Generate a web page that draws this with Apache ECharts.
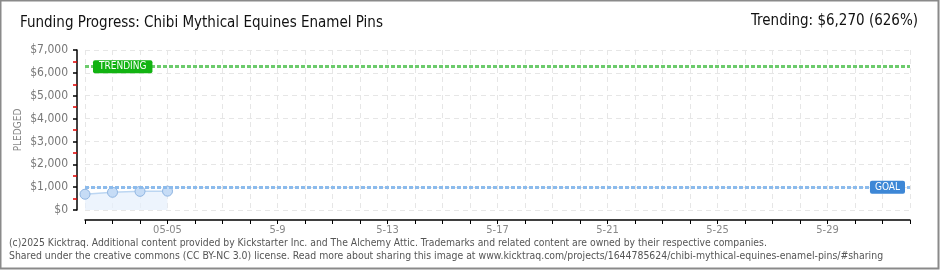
<!DOCTYPE html>
<html><head><meta charset="utf-8">
<script src="https://cdn.jsdelivr.net/npm/echarts@6/dist/echarts.min.js"></script>
<style>html,body{margin:0;padding:0;background:#fff}#c{width:940px;height:270px}</style>
</head><body><div id="c"></div>
<script>
const categories = ['05-02','05-03','05-04','05-05','05-06','05-07','05-08','05-09','05-10','05-11','05-12','05-13','05-14','05-15','05-16','05-17','05-18','05-19','05-20','05-21','05-22','05-23','05-24','05-25','05-26','05-27','05-28','05-29','05-30','05-31','06-01'];
const xTickLabels = ['05-05','5-9','5-13','5-17','5-21','5-25','5-29'];
const pledged = [690, 775, 815, 825];
const goal = 1000;
const trending = 6270;
const titleText = 'Funding Progress: Chibi Mythical Equines Enamel Pins';
const trendText = 'Trending: $6,270 (626%)';
const footer1 = '(c)2025 Kicktraq. Additional content provided by Kickstarter Inc. and The Alchemy Attic. Trademarks and related content are owned by their respective companies.';
const footer2 = 'Shared under the creative commons (CC BY-NC 3.0) license. Read more about sharing this image at www.kicktraq.com/projects/1644785624/chibi-mythical-equines-enamel-pins/#sharing';

const FT = '"Liberation Sans Narrow","DejaVu Sans Condensed",sans-serif';
const FA = '"DejaVu Sans Condensed","DejaVu Sans",sans-serif';
const chart = echarts.init(document.getElementById('c'), null, {renderer:'canvas'});
chart.setOption({
  animation:false,
  backgroundColor:'#fff',
  graphic:[
    {type:'rect', shape:{x:0.5,y:0.5,width:938,height:268}, style:{fill:null, stroke:'#8a8a8a', lineWidth:2}},
    {type:'text', left:20, top:16, style:{text:titleText, font:'15px '+FT, fill:'#111'}},
    {type:'text', right:22, top:14, style:{text:trendText, font:'15px '+FT, fill:'#111'}},
    {type:'text', left:9, top:238, style:{text:footer1, font:'10.3px '+FA, fill:'#555'}},
    {type:'text', left:9, top:251, style:{text:footer2, font:'10.4px '+FA, fill:'#555'}}
  ],
  grid:{left:85, right:30, top:50, bottom:60},
  xAxis:{
    type:'category', data:categories, boundaryGap:false, offset:10,
    axisLine:{show:true, onZero:false, lineStyle:{color:'#000', width:1.5}},
    axisTick:{show:true, interval:0, length:4, lineStyle:{color:'#000'}},
    axisLabel:{interval:(i)=> (i-3)%4===0 && i>=3, formatter:(v,i)=> xTickLabels[(i-3)/4], color:'#888', fontSize:11, fontFamily:FA, margin:5},
    splitLine:{show:true, interval:0, lineStyle:{color:'#e6e6e6', type:[5,4]}}
  },
  yAxis:{
    type:'value', min:0, max:7000, interval:1000, offset:8,
    name:'PLEDGED', nameLocation:'middle', nameGap:54, nameRotate:90, nameMoveOverlap:false,
    nameTextStyle:{color:'#888', fontSize:10, fontFamily:FA},
    axisLine:{show:true, onZero:false, lineStyle:{color:'#000', width:1.5}},
    axisTick:{show:true, length:4, lineStyle:{color:'#000', width:1.5}},
    minorTick:{show:true, splitNumber:2, length:4, lineStyle:{color:'#e00000', width:1.5}},
    axisLabel:{formatter:(v)=>'$'+v.toLocaleString('en-US'), color:'#777', fontSize:12, fontFamily:FA, margin:9},
    splitLine:{show:true, lineStyle:{color:'#e6e6e6', type:[5,4]}}
  },
  series:[{
    type:'line', data:pledged, symbol:'circle', symbolSize:10,
    itemStyle:{color:'#c6dcf6', borderColor:'#8fb5e2', borderWidth:1},
    lineStyle:{color:'#bcd6f2', width:1.5},
    areaStyle:{color:'#e6f0fc'},
    markLine:{
      silent:true, symbol:'none',
      data:[
        {yAxis:trending, lineStyle:{color:'#6ccb6c', type:[4,2], width:3},
         label:{show:true, position:'insideStart', formatter:'TRENDING', color:'#fff', backgroundColor:'#12b312', padding:[2,6,1,6], borderRadius:2, fontSize:10, fontFamily:FA, distance:8}},
        {yAxis:goal, lineStyle:{color:'#8cbbec', type:[4,2], width:3},
         label:{show:true, position:'insideEnd', formatter:'GOAL', color:'#fff', backgroundColor:'#3d87d6', padding:[2,5,1,5], borderRadius:2, fontSize:10, fontFamily:FA, distance:5}}
      ]
    }
  }]
});
</script></body></html>
